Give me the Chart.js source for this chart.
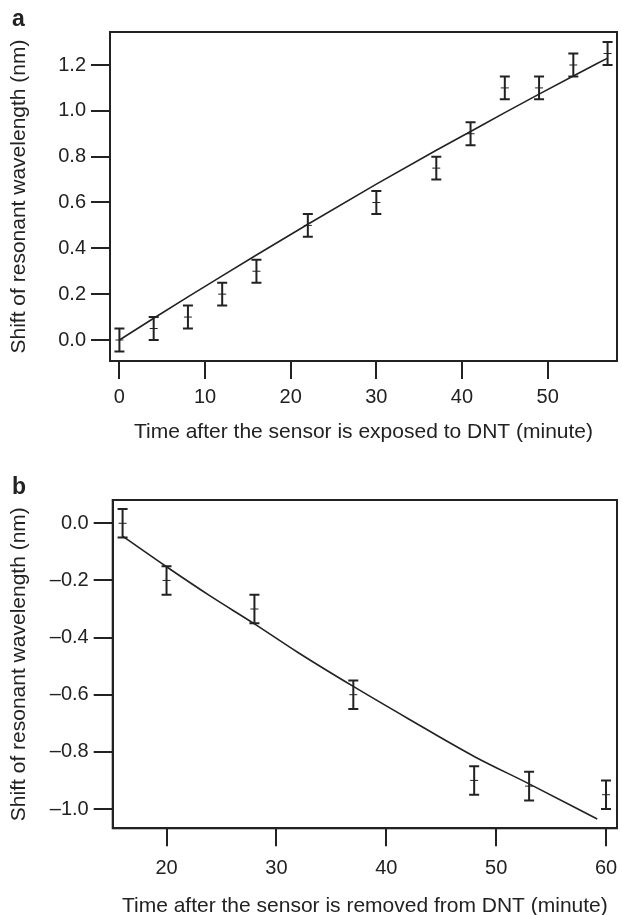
<!DOCTYPE html>
<html><head><meta charset="utf-8">
<script src="https://cdn.jsdelivr.net/npm/chart.js@4.4.1/dist/chart.umd.min.js"></script>
<style>
html,body{margin:0;padding:0;background:#fff;overflow:hidden;width:622px;height:915px}
#wrap{position:relative;width:622px;height:915px;overflow:hidden}
canvas{position:absolute;left:0}
#ca{top:0}
#cb{top:450px}
.lab{position:absolute;font:bold 23px "Liberation Sans",Arial,sans-serif;line-height:23px;color:#222}
</style></head><body>
<div id="wrap">
<canvas id="ca" width="622" height="450"></canvas>
<canvas id="cb" width="622" height="470"></canvas>
<div class="lab" style="left:12px;top:7px">a</div>
<div class="lab" style="left:12px;top:475px">b</div>
</div>
<script>
// ---- Panel a data ----
const timeA  = [0, 4, 8, 12, 16, 22, 30, 37, 41, 45, 49, 53, 57];
const shiftA = [0, 0.05, 0.10, 0.20, 0.30, 0.50, 0.60, 0.75, 0.90, 1.10, 1.10, 1.20, 1.25];
const errA   = [0.05, 0.05, 0.05, 0.05, 0.05, 0.05, 0.05, 0.05, 0.05, 0.05, 0.05, 0.05, 0.05];
const fitTimeA  = [0, 4, 8, 12, 16, 22, 30, 37, 41, 45, 49, 53, 57];
const fitShiftA = [0, 0.095, 0.188, 0.280, 0.371, 0.505, 0.680, 0.828, 0.910, 0.992, 1.073, 1.152, 1.230];
const xTicksA = [0, 10, 20, 30, 40, 50];
const xTickLabelsA = ['0', '10', '20', '30', '40', '50'];
const yTicksA = [0, 0.2, 0.4, 0.6, 0.8, 1.0, 1.2];
const yTickLabelsA = ['0.0', '0.2', '0.4', '0.6', '0.8', '1.0', '1.2'];
const xTitleA = 'Time after the sensor is exposed to DNT (minute)';

// ---- Panel b data ----
const timeB  = [16, 20, 28, 37, 48, 53, 60];
const shiftB = [0, -0.20, -0.30, -0.60, -0.90, -0.92, -0.95];
const errB   = [0.05, 0.05, 0.05, 0.05, 0.05, 0.05, 0.05];
const fitTimeB  = [16, 20, 24, 28, 32, 37, 42, 48, 53, 59.2];
const fitShiftB = [-0.045, -0.152, -0.255, -0.352, -0.453, -0.571, -0.684, -0.816, -0.912, -1.035];
const xTicksB = [20, 30, 40, 50, 60];
const xTickLabelsB = ['20', '30', '40', '50', '60'];
const yTicksB = [-1.0, -0.8, -0.6, -0.4, -0.2, 0];
const yTickLabelsB = ['\u20131.0', '\u20130.8', '\u20130.6', '\u20130.4', '\u20130.2', '0.0'];
const xTitleB = 'Time after the sensor is removed from DNT (minute)';

const yTitle = 'Shift of resonant wavelength (nm)';

const INK = '#222';
const FONT = '"Liberation Sans", Arial, Helvetica, sans-serif';

const errorBarPlugin = {
  id: 'errorBars',
  afterDatasetsDraw(chart, args, opts) {
    const {ctx, scales: {x, y}, chartArea} = chart;
    ctx.save();
    ctx.strokeStyle = INK;
    ctx.lineWidth = 2;
    ctx.strokeRect(chartArea.left, chartArea.top, chartArea.right - chartArea.left, chartArea.bottom - chartArea.top);
    for (let i = 0; i < opts.xs.length; i++) {
      const px = x.getPixelForValue(opts.xs[i]);
      const pTop = y.getPixelForValue(opts.ys[i] + opts.errs[i]);
      const pBot = y.getPixelForValue(opts.ys[i] - opts.errs[i]);
      ctx.beginPath();
      ctx.moveTo(px, pTop); ctx.lineTo(px, pBot);
      ctx.moveTo(px - 5, pTop); ctx.lineTo(px + 5, pTop);
      ctx.moveTo(px - 5, pBot); ctx.lineTo(px + 5, pBot);
      ctx.stroke();
    }
    ctx.restore();
  }
};

function makeChart(id, cfg) {
  const pts = cfg.xs.map((v, i) => ({x: v, y: cfg.ys[i]}));
  const fit = cfg.fx.map((v, i) => ({x: v, y: cfg.fy[i]}));
  return new Chart(document.getElementById(id), {
    type: 'scatter',
    data: {
      datasets: [
        {type: 'line', data: fit, borderColor: INK, borderWidth: 1.6, pointRadius: 0,
         cubicInterpolationMode: 'monotone', fill: false, clip: false},
        {data: pts, pointStyle: 'line', pointRadius: 4, borderColor: INK, borderWidth: 1,
         pointHoverRadius: 4, clip: false}
      ]
    },
    options: {
      responsive: false, animation: false, devicePixelRatio: 1,
      layout: {padding: cfg.padding},
      plugins: {legend: {display: false}, tooltip: {enabled: false},
        errorBars: {xs: cfg.xs, ys: cfg.ys, errs: cfg.errs}},
      scales: {
        x: {
          type: 'linear', position: 'bottom', min: cfg.xmin, max: cfg.xmax,
          afterBuildTicks: s => { s.ticks = cfg.xt.map(v => ({value: v})); },
          afterFit: s => { s.height = cfg.xh; s.paddingLeft = 0; s.paddingRight = 0; },
          grid: {display: true, drawOnChartArea: false, drawTicks: true, tickLength: 18, color: INK, lineWidth: 2},
          border: {display: true, color: INK, width: 2},
          ticks: {color: INK, font: {family: FONT, size: 20}, padding: cfg.xpad, maxRotation: 0,
                  autoSkip: false, callback: (v, i) => cfg.xl[i]},
          title: {display: true, text: cfg.xtitle, color: INK, font: {family: FONT, size: 21},
                  padding: {top: 0, bottom: cfg.xtpad}}
        },
        y: {
          type: 'linear', position: 'left', min: cfg.ymin, max: cfg.ymax,
          afterBuildTicks: s => { s.ticks = cfg.yt.map(v => ({value: v})); },
          afterFit: s => { s.width = cfg.yw; s.paddingTop = 0; s.paddingBottom = 0; },
          grid: {display: true, drawOnChartArea: false, drawTicks: true, tickLength: 19, color: INK, lineWidth: 2},
          border: {display: true, color: INK, width: 2},
          ticks: {color: INK, font: {family: FONT, size: 20}, padding: 5, autoSkip: false,
                  callback: (v, i) => cfg.yl[i]},
          title: {display: true, text: yTitle, color: INK, font: {family: FONT, size: 21},
                  padding: {top: 7, bottom: 0}}
        }
      }
    },
    plugins: [errorBarPlugin]
  });
}

makeChart('ca', {
  xs: timeA, ys: shiftA, errs: errA, fx: fitTimeA, fy: fitShiftA,
  xt: xTicksA, xl: xTickLabelsA, yt: yTicksA, yl: yTickLabelsA,
  xmin: -1.1, xmax: 58.1, ymin: -0.0917, ymax: 1.344,
  padding: {left: 0, right: 2, top: 32, bottom: 0},
  xh: 89, yw: 110, xpad: 6, xtpad: 5, xtitle: xTitleA
});
makeChart('cb', {
  xs: timeB, ys: shiftB, errs: errB, fx: fitTimeB, fy: fitShiftB,
  xt: xTicksB, xl: xTickLabelsB, yt: yTicksB, yl: yTickLabelsB,
  xmin: 15.1, xmax: 61.0, ymin: -1.0676, ymax: 0.0816,
  padding: {left: 0, right: 1, top: 50, bottom: 0},
  xh: 91.7, yw: 112.7, xpad: 10, xtpad: 1, xtitle: xTitleB
});
</script>
</body></html>
